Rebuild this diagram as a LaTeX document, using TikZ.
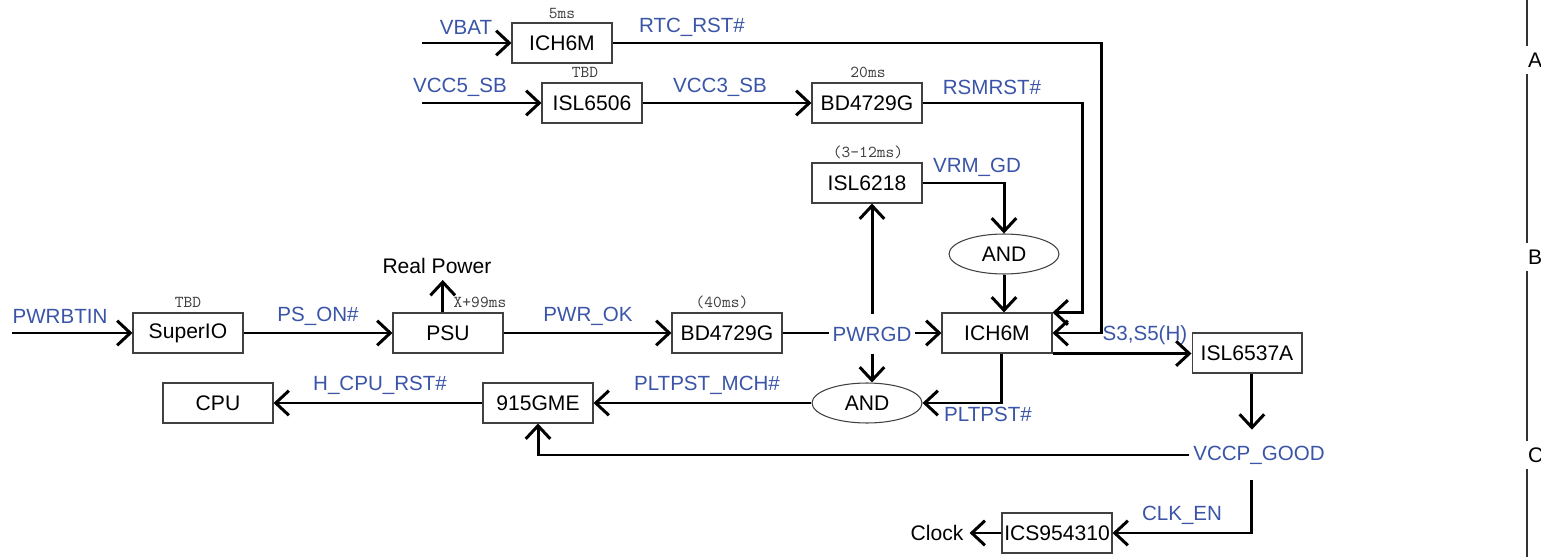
\documentclass[tikz,border=0pt]{standalone}
\usepackage{fontspec}
\setmainfont{Liberation Sans}
\usepackage{tikz}
\usetikzlibrary{arrows.meta,shapes.geometric,positioning,calc}
\definecolor{sigblue}{RGB}{58,84,168}

\begin{document}
\begin{tikzpicture}[x=0.02cm, y=-0.02cm,
    chip/.style={draw=black!75, line width=0.6pt, minimum width=2.2cm, minimum height=0.8cm, inner sep=0pt, font=\fontsize{12}{14}\selectfont},
    gate/.style={chip, ellipse},
    sig/.style={text=sigblue, font=\fontsize{11.7}{14}\selectfont, inner sep=2pt},
    delay/.style={text=black!75, font=\fontsize{9.5}{11}\ttfamily, inner sep=0pt},
    link/.style={line width=1.7pt},
    wire/.style={link, -{Straight Barb[length=7.5pt,width=14pt]}}]
    \useasboundingbox (0,0) rectangle (1541,557);

    % Standby rails
    \node[chip, minimum width=2cm] (ichtop) at (562,43) {ICH6M};
    \node[chip, minimum width=2cm] (isl6506) at (592,103) {ISL6506};
    \node[chip] (bdtop) at (867,103) {BD4729G};
    \coordinate (vbat) at (422,43);
    \coordinate (vcc5) at (422,103);
    \node[delay] (dlyich) at (562,13) {5ms};
    \node[delay] (dlyisl) at (585,72) {TBD};
    \node[delay] (dlybdtop) at (868,72) {20ms};

    % Main power path
    \node[chip] (isl6218) at (867,183) {ISL6218};
    \node[gate] (andtop) at (1004,254) {AND};
    \node[chip] (superio) at (188,333) {SuperIO};
    \node[chip] (psu) at (448,333) {PSU};
    \node[chip] (bdmid) at (727,333) {BD4729G};
    \node[sig, minimum height=0.8cm] (pwrgd) at (872,334) {PWRGD};
    \node[chip] (ichmid) at (997,333) {ICH6M};
    \node[chip] (isl6537) at (1247,353) {ISL6537A};
    \node[font=\fontsize{12}{14}\selectfont] (realpwr) at (437,266) {Real Power};
    \coordinate (pwrbtn) at (12,333);
    \node[delay] (dly6218) at (868,152) {(3-12ms)};
    \node[delay] (dlysio) at (188,302) {TBD};
    \node[delay] (dlypsu) at (480,302) {X+99ms};
    \node[delay] (dlybdmid) at (722,302) {(40ms)};

    % Reset path
    \node[chip] (cpu) at (218,403) {CPU};
    \node[chip] (gme) at (538,403) {915GME};
    \node[gate] (andbot) at (867,403) {AND};
    \node[sig, minimum height=1cm] (vccp) at (1259,455) {VCCP\_GOOD};
    \node[chip] (ics) at (1057,533) {ICS954310};
    \node[font=\fontsize{12}{14}\selectfont] (clock) at (937,533) {Clock};

    % Signal names
    \node[sig] (lvbat) at (466,27) {VBAT};
    \node[sig] (lrtc) at (692,27) {RTC\_RST\#};
    \node[sig] (lvcc5) at (460,87) {VCC5\_SB};
    \node[sig] (lvcc3) at (720,87) {VCC3\_SB};
    \node[sig] (lrsm) at (992,87) {RSMRST\#};
    \node[sig] (lvrm) at (977,167) {VRM\_GD};
    \node[sig] (lpwrbtn) at (60,316) {PWRBTIN};
    \node[sig] (lpson) at (318,316) {PS\_ON\#};
    \node[sig] (lpwrok) at (588,316) {PWR\_OK};
    \node[sig] (lslp) at (1145,335) {S3,S5(H)};
    \node[sig] (lhcpu) at (380,385) {H\_CPU\_RST\#};
    \node[sig] (lmch) at (707,385) {PLTPST\_MCH\#};
    \node[sig] (lplt) at (988,414) {PLTPST\#};
    \node[sig] (lclk) at (1182,515) {CLK\_EN};

    % Connectors
    \draw[wire] (vbat) -- (ichtop);
    \draw[wire] (vcc5) -- (isl6506);
    \draw[wire] (isl6506) -- (bdtop);
    \draw[wire] (ichtop.east) -- ++(489,0) |- (ichmid.east);
    \draw[wire] (bdtop.east) -- ++(160,0) |- (ichmid.north east);
    \draw[wire] (isl6218.east) -| (andtop.north);
    \draw[wire] (andtop.south) -- (andtop.south |- ichmid.north);
    \draw[wire] (pwrbtn) -- (superio);
    \draw[wire] (superio) -- (psu);
    \draw[wire] ([xshift=-3pt]psu.north) -- ([xshift=-3pt]psu.north |- realpwr.south);
    \draw[wire] (psu) -- (bdmid);
    \draw[link] (bdmid.east) -- (bdmid.east -| pwrgd.west);
    \draw[wire] (pwrgd.east |- ichmid.west) -- (ichmid.west);
    \draw[wire] (pwrgd.north) -- (pwrgd.north |- isl6218.south);
    \draw[wire] (pwrgd.south) -- (pwrgd.south |- andbot.north);
    \draw[wire] ([xshift=2.8pt]ichmid.south) |- (andbot.east);
    \draw[wire] (andbot) -- (gme);
    \draw[wire] (gme) -- (cpu);
    \draw[wire] (ichmid.south east) -- (ichmid.south east -| isl6537.west);
    \draw[wire] ([xshift=2.8pt]isl6537.south) -- ([xshift=2.8pt]isl6537.south |- vccp.north);
    \draw[wire] (vccp.west) -| (gme.south);
    \draw[wire] ([xshift=2.8pt]isl6537.south |- vccp.south) |- (ics.east);
    \draw[wire] (ics) -- (clock);

    % Zone border
    \draw[black!80, line width=0.6pt] (1527,0) -- (1527,557);
    \foreach \y/\r in {60/A,257/B,455/C}
        \node[anchor=west, fill=white, inner xsep=1pt, inner ysep=4pt, font=\fontsize{12}{14}\selectfont] (zone\r) at (1526,\y) {\r};
\end{tikzpicture}
\end{document}
